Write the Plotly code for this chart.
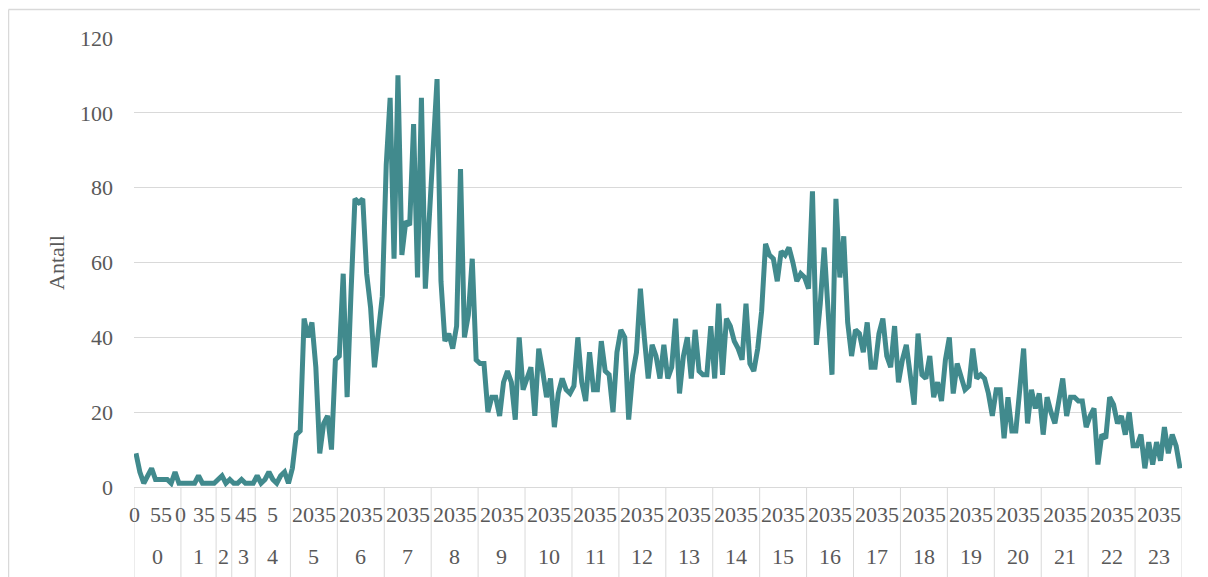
import plotly.graph_objects as go

# minutes present in each hour (category level 1) and hours (category level 2)
hours = list(range(24))
minutes_h0 = [0, 5, 10, 15, 20, 25, 30, 35, 40, 45, 50, 55]
minutes_h1 = [0, 5, 10, 15, 20, 25, 35, 40, 50]
minutes_h2 = [0, 5, 20, 40]
minutes_h3 = [5, 15, 25, 30, 45, 50]
minutes_h4 = [0, 5, 10, 20, 25, 35, 40, 45, 55]
minutes_full = [0, 5, 10, 15, 20, 25, 30, 35, 40, 45, 50, 55]

# minute labels that are actually shown under each hour
shown_labels = [
    ["0", "55"], ["0", "35"], ["5"], ["45"], ["5"],
] + [["20", "35"]] * 19

antall = [
    9, 4, 1, 3, 5, 2, 2, 2, 2, 1, 4, 1,
    1, 1, 1, 1, 3, 1, 1, 1, 1,
    2, 3, 1, 2,
    1, 1, 2, 1, 1, 1,
    3, 1, 2, 4, 2, 1, 3, 4, 1,
    5, 14, 15, 45, 40, 44, 32, 9, 17, 19, 10, 34,
    35, 57, 24, 52, 77, 76, 77, 57, 48, 32, 42, 51,
    86, 104, 61, 110, 62, 71, 70, 97, 56, 104, 53, 72,
    90, 109, 55, 39, 41, 37, 43, 85, 40, 46, 61, 34,
    33, 33, 20, 24, 24, 19, 28, 31, 28, 18, 40, 26,
    29, 32, 19, 37, 31, 24, 29, 16, 25, 29, 26, 25,
    27, 40, 28, 23, 36, 26, 26, 39, 31, 30, 20, 36,
    42, 40, 18, 30, 36, 53, 40, 29, 38, 35, 29, 38,
    29, 32, 45, 25, 35, 40, 29, 42, 31, 30, 30, 43,
    29, 49, 30, 45, 43, 39, 37, 34, 49, 33, 31, 37,
    47, 65, 62, 61, 55, 63, 62, 64, 60, 55, 57, 56,
    53, 79, 38, 49, 64, 47, 30, 77, 56, 67, 44, 35,
    42, 41, 36, 44, 32, 32, 41, 45, 35, 32, 43, 28,
    34, 38, 31, 22, 41, 30, 29, 35, 24, 28, 23, 34,
    40, 25, 33, 29, 26, 27, 37, 29, 30, 29, 25, 19,
    26, 26, 13, 24, 15, 15, 28, 37, 17, 26, 21, 25,
    14, 24, 20, 17, 23, 29, 19, 24, 24, 23, 23, 16,
    19, 21, 6, 14, 13, 24, 22, 17, 19, 14, 20, 11,
    11, 14, 5, 12, 6, 12, 7, 16, 9, 14, 11, 5,
]

minutes_by_hour = [minutes_h0, minutes_h1, minutes_h2, minutes_h3, minutes_h4] + [minutes_full] * 19

# pixel offsets of the shown minute labels from their hour group's centre
label_offsets = [
    [-23, 4], [-18, 5], [2], [3], [0],
] + [[-11, 11]] * 19

FONT = "Liberation Serif"
GREY = "#595959"
LINE = "#d9d9d9"

# the page puts the figure at (8, 8); plot area on screen is x 134..1182, y 38..487
OFF = 8
W, H = 1208 - OFF, 577 - OFF
PX0, PX1, PY0, PY1 = 134, 1182, 38, 487
L, R, T, B = PX0 - OFF, W - (PX1 - OFF), PY0 - OFF, H - (PY1 - OFF)
pw, ph = PX1 - PX0, PY1 - PY0


def py(ypx):
    return (PY1 - ypx) / ph


def px(xpx):
    return (xpx - PX0) / pw


x = list(range(len(antall)))

fig = go.Figure()
fig.add_trace(go.Scatter(
    x=x, y=antall, mode="lines",
    line=dict(color="#418A8D", width=5),
    hoverinfo="y",
))

shapes = []
annotations = []
start = 0
bounds = [-0.5]
for h, mins, labels, offs in zip(hours, minutes_by_hour, shown_labels, label_offsets):
    end = start + len(mins)
    bounds.append(end - 0.5)
    center = (start + end - 1) / 2
    annotations.append(dict(
        x=center, y=py(556), xref="x", yref="paper", text=str(h),
        showarrow=False, xanchor="center", yanchor="middle",
        font=dict(family=FONT, size=22, color=GREY),
    ))
    for lab, off in zip(labels, offs):
        annotations.append(dict(
            x=center, y=py(514), xref="x", yref="paper", text=lab,
            showarrow=False, xanchor="center", yanchor="middle", xshift=off,
            borderpad=0,
            font=dict(family=FONT, size=22, color=GREY),
        ))
    start = end

for b in bounds:
    shapes.append(dict(
        type="line", xref="x", yref="paper", x0=b, x1=b, y0=0, y1=py(600),
        line=dict(color=LINE, width=1),
    ))

# chart border: only its top and left edges fall inside the window
shapes.append(dict(
    type="line", xref="paper", yref="paper",
    x0=px(8.5), x1=px(1208), y0=py(9.5), y1=py(9.5),
    line=dict(color=LINE, width=1.5), layer="below",
))
shapes.append(dict(
    type="line", xref="paper", yref="paper",
    x0=px(8.5), x1=px(8.5), y0=py(9.5), y1=py(600),
    line=dict(color=LINE, width=1.5), layer="below",
))

fig.update_layout(
    width=W, height=H,
    margin=dict(l=L, r=R, t=T, b=B, autoexpand=False),
    paper_bgcolor="white",
    plot_bgcolor="white",
    showlegend=False,
    shapes=shapes,
    annotations=annotations,
    font=dict(family=FONT, size=22, color=GREY),
)
fig.update_xaxes(
    range=[-0.5, len(antall) - 0.5], automargin=False,
    showticklabels=False, showgrid=False, zeroline=False,
    showline=True, linecolor=LINE, linewidth=1, ticks="",
)
fig.update_yaxes(
    range=[0, 120], tickvals=[0, 20, 40, 60, 80, 100, 120], automargin=False,
    showgrid=True, gridcolor=LINE, gridwidth=1, zeroline=False,
    showline=False, ticks="", ticklabelstandoff=20,
    tickfont=dict(family=FONT, size=22, color=GREY),
    title=dict(text="Antall", standoff=9, font=dict(family=FONT, size=22, color=GREY)),
)

fig.write_html("out.html")
